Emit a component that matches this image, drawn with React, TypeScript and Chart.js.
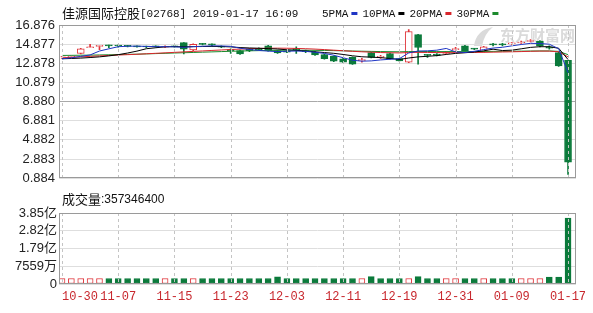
import React, { useEffect, useRef } from "react";
import { Chart, registerables } from "chart.js";

Chart.register(...registerables);

// ---- data ----
const opens = [
  13.45, 13.5, 13.9, 14.5, 14.65, 14.75, 14.72, 14.7, 14.65, 14.62,
  14.65, 14.55, 14.65, 15.04, 14.27, 14.9, 14.85, 14.65, 14.25, 14.2,
  14.4, 14.45, 14.7, 14.2, 14.15, 14.4, 14.2, 14.05, 13.8, 13.6,
  13.35, 13.5, 13.15, 14.0, 13.5, 13.9, 13.36, 13.0, 15.87, 13.75,
  13.85, 13.9, 14.3, 14.7, 14.4, 14.1, 14.85, 14.85, 14.9, 15.0,
  15.15, 15.2, 14.6, 14.0, 13.2,
];
const highs = [
  13.6, 13.65, 14.45, 14.85, 14.75, 14.78, 14.8, 14.75, 14.7, 14.68,
  14.7, 14.7, 14.75, 15.05, 14.9, 14.95, 14.9, 14.7, 14.4, 14.25,
  14.45, 14.5, 14.75, 14.25, 14.2, 14.6, 14.25, 14.1, 13.85, 13.65,
  13.4, 13.55, 13.4, 14.05, 13.7, 13.95, 13.4, 16.4, 15.9, 13.8,
  13.9, 14.1, 14.55, 14.75, 14.45, 14.65, 14.95, 14.95, 15.05, 15.2,
  15.35, 15.25, 14.7, 14.05, 13.2,
];
const lows = [
  13.4, 13.45, 13.85, 14.5, 14.3, 14.5, 14.55, 14.6, 14.55, 14.5,
  14.55, 14.5, 14.55, 13.86, 14.2, 14.8, 14.7, 14.5, 13.9, 13.8,
  14.1, 14.25, 14.15, 13.9, 14.0, 13.9, 14.0, 13.7, 13.3, 13.05,
  12.95, 12.75, 13.0, 13.45, 13.4, 13.3, 13.1, 12.95, 12.8, 13.5,
  13.65, 13.85, 14.25, 14.15, 14.3, 14.05, 14.7, 14.7, 14.85, 14.95,
  15.1, 14.6, 14.35, 12.55, 1.28,
];
const closes = [
  13.55, 13.6, 14.4, 14.55, 14.7, 14.7, 14.68, 14.65, 14.6, 14.58,
  14.6, 14.62, 14.6, 14.36, 14.87, 14.85, 14.8, 14.55, 14.2, 13.86,
  14.2, 14.3, 14.2, 13.95, 14.05, 14.3, 14.1, 13.75, 13.36, 13.1,
  13.0, 12.8, 13.25, 13.5, 13.58, 13.36, 13.13, 16.2, 14.53, 13.7,
  13.7, 14.0, 14.4, 14.2, 14.35, 14.6, 14.8, 14.8, 14.95, 15.05,
  15.2, 14.7, 14.45, 12.6, 2.56,
];

const ma5 = [
  13.35, 13.45, 13.6, 13.75, 14.16, 14.39, 14.61, 14.66, 14.67, 14.64,
  14.62, 14.61, 14.6, 14.55, 14.61, 14.66, 14.7, 14.69, 14.65, 14.45,
  14.32, 14.22, 14.15, 14.1, 14.14, 14.16, 14.12, 14.03, 13.91, 13.72,
  13.46, 13.2, 13.1, 13.13, 13.23, 13.3, 13.36, 13.96, 14.16, 14.18,
  14.25, 14.43, 14.07, 14.0, 14.13, 14.31, 14.47, 14.55, 14.7, 14.84,
  14.96, 14.94, 14.87, 14.4, 11.9,
];
const ma10 = [
  13.35, 13.38, 13.42, 13.48, 13.55, 13.65, 13.78, 13.95, 14.15, 14.4,
  14.5, 14.6, 14.62, 14.6, 14.62, 14.63, 14.64, 14.63, 14.59, 14.52,
  14.48, 14.45, 14.41, 14.37, 14.29, 14.23, 14.16, 14.08, 14.0, 13.92,
  13.8, 13.66, 13.56, 13.52, 13.47, 13.38, 13.28, 13.43, 13.55, 13.61,
  13.68, 13.8, 13.91, 13.98, 14.06, 14.18, 14.35, 14.21, 14.25, 14.39,
  14.54, 14.61, 14.61, 14.45, 13.27,
];
const ma20 = [
  13.45, 13.5, 13.55, 13.6, 13.65, 13.7, 13.74, 13.78, 13.82, 13.87,
  13.92, 13.97, 14.02, 14.07, 14.12, 14.17, 14.22, 14.27, 14.32, 14.36,
  14.4, 14.43, 14.45, 14.46, 14.45, 14.43, 14.4, 14.36, 14.31, 14.25,
  14.19, 14.13, 14.08, 14.04, 14.0, 13.98, 13.96, 14.0, 14.02, 14.01,
  14.0, 13.99, 13.99, 14.0, 14.01, 14.02, 14.04, 14.06, 14.08, 14.1,
  14.13, 14.15, 14.15, 14.08, 13.55,
];
const ma30 = [
  13.7, 13.71, 13.72, 13.73, 13.75, 13.77, 13.79, 13.81, 13.83, 13.86,
  13.89, 13.92, 13.95, 13.98, 14.01, 14.04, 14.07, 14.1, 14.13, 14.16,
  14.18, 14.2, 14.22, 14.23, 14.24, 14.24, 14.24, 14.23, 14.22, 14.2,
  14.18, 14.16, 14.14, 14.12, 14.1, 14.09, 14.08, 14.1, 14.11, 14.11,
  14.1, 14.1, 14.1, 14.1, 14.1, 14.11, 14.12, 14.13, 14.14, 14.15,
  14.16, 14.17, 14.17, 14.12, 13.78,
];

const volumes = [
  3.0e7, 3.0e7, 3.0e7, 3.0e7, 3.0e7, 3.0e7, 3.0e7, 3.0e7, 3.0e7, 3.0e7,
  3.0e7, 3.0e7, 3.0e7, 3.0e7, 3.0e7, 3.0e7, 3.0e7, 3.0e7, 3.0e7, 3.0e7,
  3.0e7, 3.0e7, 3.0e7, 3.9e7, 3.0e7, 3.0e7, 3.0e7, 3.0e7, 3.0e7, 3.0e7,
  3.0e7, 3.0e7, 3.0e7, 4.0e7, 3.0e7, 3.0e7, 3.0e7, 3.0e7, 4.0e7, 3.0e7,
  3.0e7, 3.0e7, 3.0e7, 3.0e7, 3.0e7, 3.0e7, 3.0e7, 3.0e7, 3.0e7, 3.0e7,
  3.0e7, 3.0e7, 3.7e7, 3.8e7, 357346400,
];
const volumeUp = [
  true, true, true, true, true, false, false, false, false, false,
  false, true, false, false, true, false, false, false, false, false,
  false, false, false, false, false, false, false, false, false, false,
  false, false, true, false, false, false, false, true, false, false,
  false, true, true, false, false, true, false, false, false, true,
  true, true, false, false, false,
];

const xTickIndices = [0, 6, 12, 18, 24, 30, 36, 42, 48, 54];
const xTickLabels = ["10-30", "11-07", "11-15", "11-23", "12-03", "12-11", "12-19", "12-31", "01-09", "01-17"];

const priceTicks = [0.884, 2.883, 4.882, 6.881, 8.88, 10.879, 12.878, 14.877, 16.876];
const priceTickLabels = ["0.884", "2.883", "4.882", "6.881", "8.880", "10.879", "12.878", "14.877", "16.876"];

const volumeTicks = [0, 0.9625e8, 1.925e8, 2.8875e8, 3.85e8];
const volumeTickLabels = ["0", "7559万", "1.79亿", "2.82亿", "3.85亿"];

const titleName = "佳源国际控股";
const titleRest = "[02768] 2019-01-17 16:09";
const maNames = ["5PMA", "10PMA", "20PMA", "30PMA"];
const volumeTitle = "成交量";
const volumeTitleValue = ":357346400";
const watermark = "东方财富网";

// ---- styles ----
const RED = "#e0343a";
const GREEN = "#0b7a3b";
const MA_COLORS = ["#1f35c4", "#000000", "#d8262c", "#1c8a2c"];
const X_MIN = -0.32;
const X_MAX = 54.85;
const SANS = "'Liberation Sans', 'Noto Sans CJK SC', sans-serif";
const MONO = "'Liberation Mono', 'DejaVu Sans Mono', monospace";
const CJK = "'Noto Sans CJK SC', sans-serif";

function makeFramePlugin() {
  return {
    id: "plotframe",
    afterDatasetsDraw(chart: any) {
      // dashed vertical grid lines at the date ticks
      const { ctx, chartArea: a } = chart;
      const xs = chart.scales.x;
      ctx.save();
      ctx.strokeStyle = "#c4c4c4";
      ctx.lineWidth = 1;
      ctx.setLineDash([3, 3]);
      for (const v of xTickIndices) {
        const px = Math.round(xs.getPixelForValue(v)) + 0.5;
        ctx.beginPath();
        ctx.moveTo(px, a.top);
        ctx.lineTo(px, a.bottom);
        ctx.stroke();
      }
      ctx.restore();
    },
    afterDraw(chart: any) {
      const { ctx, chartArea: a } = chart;
      ctx.save();
      ctx.strokeStyle = "#9a9a9a";
      ctx.lineWidth = 1;
      ctx.strokeRect(Math.round(a.left) + 0.5, Math.round(a.top) + 0.5, Math.round(a.right - a.left) - 1, Math.round(a.bottom - a.top) - 1);
      ctx.restore();
    },
  };
}

function xScale(extra: any = {}) {
  return {
    type: "linear",
    min: X_MIN,
    max: X_MAX,
    offset: false,
    grid: { display: false, offset: false, drawTicks: false },
    border: { display: false },
    afterBuildTicks: (s: any) => {
      s.ticks = xTickIndices.map((v) => ({ value: v }));
    },
    ...extra,
  };
}

export default function App() {
  const priceRef = useRef<HTMLCanvasElement | null>(null);
  const volRef = useRef<HTMLCanvasElement | null>(null);

  useEffect(() => {
    if (!priceRef.current || !volRef.current) return;

    const headerPlugin = {
      id: "header",
      beforeDraw(chart: any) {
        const ctx = chart.ctx;
        ctx.save();
        ctx.fillStyle = "#dadada";
        ctx.font = `bold 15px ${CJK}`;
        ctx.textBaseline = "middle";
        ctx.fillText(watermark, 500, 35);
        ctx.beginPath();
        ctx.moveTo(474, 46);
        ctx.quadraticCurveTo(476, 30, 493, 27);
        ctx.quadraticCurveTo(484, 34, 482, 46);
        ctx.closePath();
        ctx.fill();
        ctx.restore();
      },
      afterDraw(chart: any) {
        const ctx = chart.ctx;
        ctx.save();
        ctx.textBaseline = "middle";
        ctx.fillStyle = "#111";
        let x = 62;
        ctx.font = `13px ${CJK}`;
        ctx.fillText(titleName, x, 13);
        x += ctx.measureText(titleName).width;
        ctx.font = `11px ${MONO}`;
        ctx.fillText(titleRest, x, 14);
        x = 322;
        maNames.forEach((name, i) => {
          ctx.fillStyle = "#111";
          ctx.font = `11px ${MONO}`;
          ctx.fillText(name, x, 14);
          x += ctx.measureText(name).width + 3;
          ctx.fillStyle = MA_COLORS[i];
          ctx.fillRect(x, 12, 6, 3);
          x += 11;
        });
        ctx.restore();
      },
    };

    const maSets = [ma5, ma10, ma20, ma30].map((arr, k) => ({
      type: "line",
      data: arr.map((v, i) => ({ x: i, y: v })),
      borderColor: MA_COLORS[k],
      borderWidth: 1,
      pointRadius: 0,
      tension: 0,
      order: k,
    }));

    const isUp = (i: number) => closes[i] >= opens[i];

    const priceChart = new Chart(priceRef.current, {
      type: "bar",
      data: {
        datasets: [
          ...maSets,
          {
            type: "bar",
            data: opens.map((o, i) => ({ x: i, y: [o, closes[i]] })),
            backgroundColor: (c: any) => (isUp(c.dataIndex) ? "#ffffff" : GREEN),
            borderColor: (c: any) => (isUp(c.dataIndex) ? RED : GREEN),
            borderWidth: 1,
            borderSkipped: false,
            barThickness: 7,
            minBarLength: 1,
            grouped: false,
            order: 10,
          },
          {
            type: "bar",
            data: lows.map((l, i) => ({ x: i, y: [l, highs[i]] })),
            backgroundColor: (c: any) => (isUp(c.dataIndex) ? RED : GREEN),
            borderWidth: 0,
            barThickness: 1,
            grouped: false,
            order: 11,
          },
        ] as any,
      },
      options: {
        responsive: false,
        animation: false,
        devicePixelRatio: 1,
        layout: { padding: { left: 0, right: 17, top: 25, bottom: 6 } },
        plugins: { legend: { display: false }, tooltip: { enabled: false } },
        scales: {
          x: xScale({
            ticks: { display: false },
            afterFit: (s: any) => {
              s.height = 0;
            },
          }),
          y: {
            type: "linear",
            position: "left",
            min: 0.884,
            max: 16.876,
            grid: {
              color: (c: any) => (c.tick && Math.abs(c.tick.value - 8.88) < 0.01 ? "#a9a9a9" : "#dedede"),
              drawTicks: false,
            },
            border: { display: false },
            ticks: {
              padding: 4,
              autoSkip: false,
              color: "#222",
              font: { family: SANS, size: 13 },
              callback: (_v: any, i: number) => priceTickLabels[i],
            },
            afterBuildTicks: (s: any) => {
              s.ticks = priceTicks.map((v) => ({ value: v }));
            },
            afterFit: (s: any) => {
              s.width = 59;
            },
          },
        } as any,
      },
      plugins: [makeFramePlugin(), headerPlugin],
    } as any);

    const volTitlePlugin = {
      id: "voltitle",
      afterDraw(chart: any) {
        const ctx = chart.ctx;
        ctx.save();
        ctx.textBaseline = "middle";
        ctx.fillStyle = "#111";
        let x = 62;
        ctx.font = `13px ${CJK}`;
        ctx.fillText(volumeTitle, x, 9);
        x += ctx.measureText(volumeTitle).width;
        ctx.font = `12px ${SANS}`;
        ctx.fillText(volumeTitleValue, x, 10);
        ctx.restore();
      },
    };

    const volChart = new Chart(volRef.current, {
      type: "bar",
      data: {
        datasets: [
          {
            data: volumes.map((v, i) => ({ x: i, y: v })),
            backgroundColor: (c: any) => (volumeUp[c.dataIndex] ? "#ffffff" : GREEN),
            borderColor: (c: any) => (volumeUp[c.dataIndex] ? RED : GREEN),
            borderWidth: 1,
            borderSkipped: false,
            barThickness: 6,
            grouped: false,
          },
        ],
      },
      options: {
        responsive: false,
        animation: false,
        devicePixelRatio: 1,
        layout: { padding: { left: 0, right: 17, top: 23, bottom: 0 } },
        plugins: { legend: { display: false }, tooltip: { enabled: false } },
        scales: {
          x: xScale({
            ticks: {
              display: true,
              padding: 6,
              color: "#c8282e",
              font: { family: MONO, size: 12 },
              maxRotation: 0,
              minRotation: 0,
              autoSkip: false,
              callback: (_v: any, i: number) => (i === 0 ? "     " + xTickLabels[i] : xTickLabels[i]),
            },
            afterFit: (s: any) => {
              s.height = 29;
            },
          }),
          y: {
            type: "linear",
            position: "left",
            min: 0,
            max: 3.85e8,
            grid: { color: "#dedede", drawTicks: false },
            border: { display: false },
            ticks: {
              padding: 2,
              autoSkip: false,
              color: "#222",
              font: { family: SANS, size: 13 },
              callback: (_v: any, i: number) => volumeTickLabels[i],
            },
            afterBuildTicks: (s: any) => {
              s.ticks = volumeTicks.map((v) => ({ value: v }));
            },
            afterFit: (s: any) => {
              s.width = 59;
            },
          },
        } as any,
      },
      plugins: [makeFramePlugin(), volTitlePlugin],
    } as any);

    return () => {
      priceChart.destroy();
      volChart.destroy();
    };
  }, []);

  return (
    <div style={{ position: "absolute", left: 0, top: 0, width: 593, height: 313, background: "#fff", overflow: "hidden" }}>
      <canvas ref={priceRef} width={593} height={190} style={{ position: "absolute", left: 0, top: 0, display: "block" }} />
      <canvas ref={volRef} width={593} height={123} style={{ position: "absolute", left: 0, top: 190, display: "block" }} />
    </div>
  );
}
